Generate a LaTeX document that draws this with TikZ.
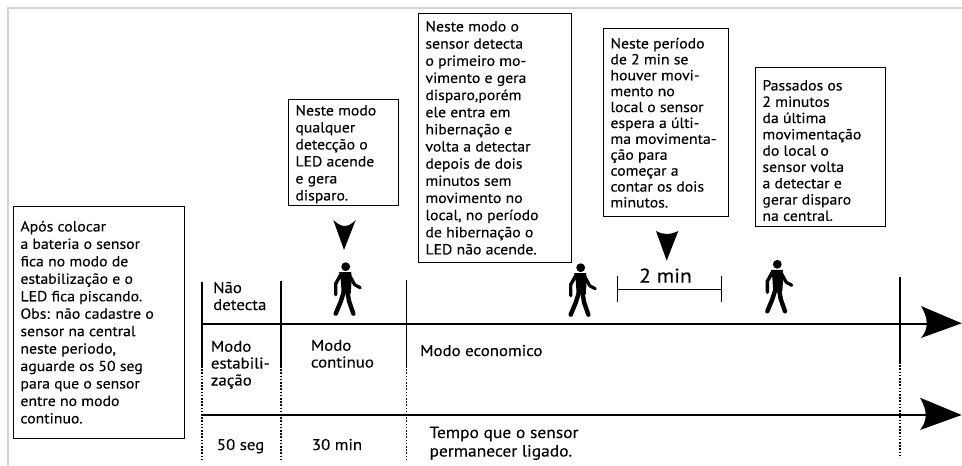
\documentclass[tikz,border=0pt]{standalone}
\usepackage{fontspec}
\setmainfont[FakeStretch=1.08,FakeBold=0.15]{PT Sans}
\newcommand{\tbx}[5]{\begin{minipage}[t][\dimexpr#2pt-11pt\relax][t]{\dimexpr#1pt-14pt\relax}\fontsize{14.6}{#4}\selectfont\raggedright\rule{0pt}{\dimexpr#5pt-5.5pt\relax}#3\end{minipage}}
\tikzset{
  x=1pt,y=-1pt,
  tb/.style={draw=black,line width=0.9pt,anchor=north west,inner xsep=7pt,inner ysep=5.5pt,fill=white},
  lab/.style={anchor=base west,inner sep=0pt,font=\fontsize{15.6}{17}\selectfont,align=left},
  labbig/.style={lab,font=\fontsize{16.2}{17}\selectfont},
  axis/.style={line width=2pt},
  tick/.style={line width=1.7pt},
  dots/.style={line width=1.9pt,dash pattern=on 1.6pt off 1.6pt},
  person/.pic={
    \fill (0,0) circle (4.4);
    \fill (-6.5,5.5) -- (5.5,5.5) -- (6,13) -- (5,27) -- (-4,27) -- (-5,13) -- cycle;
    \draw[line width=4.4pt,line cap=round,line join=round] (-1.5,24) -- (-5,35) -- (-10,47);
    \draw[line width=4.4pt,line cap=round,line join=round] (1.5,24) -- (3.5,35) -- (7.7,47);
    \draw[line width=3.4pt,line cap=round,line join=round] (-5,8) -- (-10,17) -- (-10,28);
    \draw[line width=3.2pt,line cap=round,line join=round] (3.5,8) -- (9,18) -- (14.5,21);
  },
}
\begin{document}
\begin{tikzpicture}
\useasboundingbox (0,0) rectangle (962,466);
% frame
\coordinate (fa) at (8,466); \coordinate (fb) at (8,8); \coordinate (fc) at (962,8);
\draw[line width=2pt,black!17] (fa) -- (fb) -- (fc);
% boxes
\node[tb] (b1) at (13,206) {\tbx{171}{232}{Após colocar\\a bateria o sensor\\fica no modo de\\estabilização e o\\LED fica piscando.\\Obs: não cadastre o\\sensor na central\\neste periodo,\\aguarde os 50 seg\\para que o sensor\\entre no modo\\continuo.}{17.45}{25}};
\node[tb] (b2) at (288,99) {\tbx{110}{106}{Neste modo\\qualquer\\detecção o\\LED acende\\e gera\\disparo.}{17}{16}};
\node[tb] (b3) at (418,13) {\tbx{153}{249}{Neste modo o\\sensor detecta\\o primeiro mo-\\vimento e gera\\disparo,porém\\ele entra em\\hibernação e\\volta a detectar\\depois de dois\\minutos sem\\movimento no\\local, no período\\de hibernação o\\LED não acende.}{17.15}{18}};
\node[tb] (b4) at (603,28) {\tbx{125}{188}{Neste período\\de 2 min se\\houver movi-\\mento no\\local o sensor\\espera a últi-\\ma movimenta-\\ção para\\começar a\\contar os dois\\minutos.}{15.9}{20}};
\node[tb] (b5) at (755,67) {\tbx{130}{159}{Passados os\\2 minutos\\da última\\movimentação\\do local o\\sensor volta\\a detectar e\\gerar disparo\\na central.}{16.3}{23}};
% axes
\coordinate (a1s) at (202,323.5); \coordinate (a1e) at (928,323.5);
\coordinate (a2s) at (202,415); \coordinate (a2e) at (928,415);
\draw[axis] (a1s) -- (a1e);
\draw[axis] (a2s) -- (a2e);
\fill (961.7,323.3) -- (921,306) .. controls (925,313) and (926.7,318) .. (926.7,323.3) .. controls (926.7,329) and (925,333) .. (921,338) -- cycle;
\fill (961.7,415) -- (920,397.7) .. controls (924,405) and (925.7,410) .. (925.7,415) .. controls (925.7,420) and (924,425) .. (920,430) -- cycle;
% ticks
\foreach \n/\x/\t/\m/\b in {a/202.3/282/366/461,b/281/281/366/461,c/406.5/280/366/461,d/900/277/362/458}{
  \coordinate (t\n) at (\x,\t); \coordinate (m\n) at (\x,\m); \coordinate (e\n) at (\x,\b);
  \draw[tick] (t\n) -- (m\n);
  \draw[dots] (m\n) -- (e\n);
}
% down arrows
\fill (333.3,220) .. controls (338,224) and (341,226) .. (344.5,226) .. controls (348,226) and (352,224) .. (355.7,220) -- (344,250) -- cycle;
\fill (656,231) .. controls (660,233) and (663,234) .. (666.7,234) .. controls (670,234) and (674,233) .. (678.3,231) -- (666.7,260.7) -- cycle;
% persons
\pic at (345.7,266.7) {person};
\pic at (580.7,267.7) {person};
\pic at (777.3,264.3) {person};
% 2 min
\coordinate (ml) at (617,289); \coordinate (mr) at (721.7,289);
\draw[line width=1pt] (ml) -- (mr);
\draw[line width=1pt] (617,275.7) -- (617,302);
\draw[line width=1pt] (721.7,275.7) -- (721.7,302);
\node[anchor=base,inner sep=0pt,font=\fontsize{20}{20}\selectfont] (two) at (665.5,282.7) {2 min};
% labels
\node[lab] (l1) at (213,293) {Não};
\node[lab] (l2) at (213,310) {detecta};
\node[lab] (l3) at (210.7,351.7) {Modo};
\node[lab] (l4) at (210.7,368.5) {estabili-};
\node[lab] (l5) at (210.7,385.5) {zação};
\node[lab] (l6) at (310.7,350.7) {Modo};
\node[lab] (l7) at (310.7,367.5) {continuo};
\node[lab] (l8) at (420,356) {Modo economico};
\node[lab] (l9) at (216.7,450) {50 seg};
\node[lab] (l10) at (311.7,450) {30 min};
\node[labbig] (l11) at (429.3,438) {Tempo que o sensor};
\node[labbig] (l12) at (429.3,456.5) {permanecer ligado.};
\end{tikzpicture}
\end{document}
